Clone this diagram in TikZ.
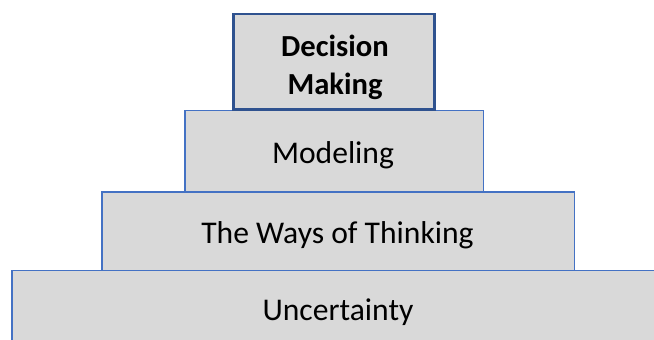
\documentclass[tikz,border=0pt]{standalone}
\usepackage{fontspec}
\setmainfont{Carlito}
\begin{document}
\begin{tikzpicture}[x=1pt,y=-1pt,
  tier/.style={draw=tierblue, fill=tiergray, line width=1.6pt},
  apex/.style={draw=apexblue, fill=tiergray, line width=2.4pt},
  label/.style={font=\fontsize{31.6}{38}\selectfont, text=black, align=center}]
  \definecolor{tiergray}{HTML}{D9D9D9}
  \definecolor{tierblue}{HTML}{4472C4}
  \definecolor{apexblue}{HTML}{2F528F}
  \useasboundingbox (0,0) rectangle (654,340);
  % pyramid tiers, widest at the bottom
  \begin{scope}
    \clip (0,0) rectangle (654,340);
    \draw[tier] (12,270.5) rectangle (670,350);
  \end{scope}
  \draw[tier] (101.7,192) rectangle (574.3,270.5);
  \draw[tier] (184.7,110.5) rectangle (483.3,192);
  \draw[apex] (233.3,14) rectangle (434.3,109.5);
  % tier captions
  \node[label] (unc) at (338,312.5) {Uncertainty};
  \node[label] (ways) at (337.5,235.5) {The Ways of Thinking};
  \node[label] (mod) at (333,155) {Modeling};
  \node[label, font=\bfseries\fontsize{30.6}{38}\selectfont] (dec) at (335,67.5) {Decision\\Making};
\end{tikzpicture}
\end{document}
